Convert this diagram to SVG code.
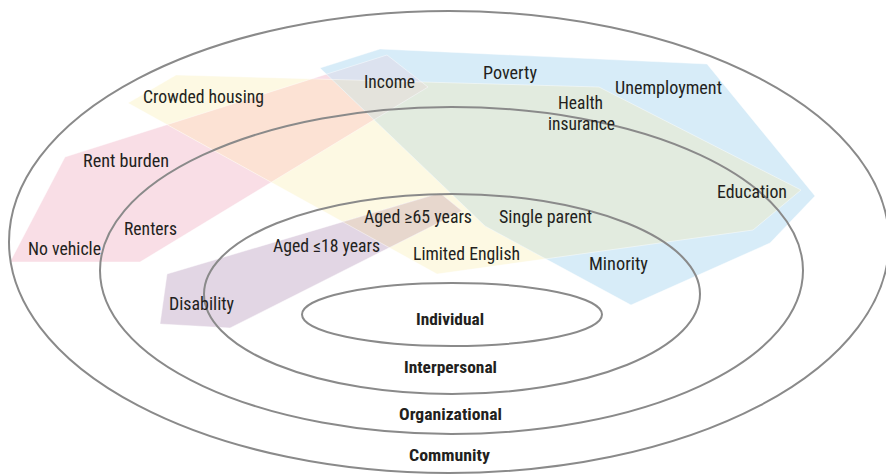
<svg xmlns="http://www.w3.org/2000/svg" xmlns:xlink="http://www.w3.org/1999/xlink" width="886" height="474" viewBox="0 0 886 474">
  <style>
    .ring { fill: none; stroke: #8a8a8a; stroke-width: 2; }
    .lbl { font-family: "Liberation Sans Narrow", "Roboto Condensed", "Liberation Sans", Arial, sans-serif; font-size: 17.5px; fill: #231f20; }
    .lvl { font-family: "Liberation Sans Narrow", "Roboto Condensed", "Liberation Sans", Arial, sans-serif; font-size: 17px; font-weight: bold; fill: #231f20; }
    .edge { fill: none; stroke: #ffffff; stroke-opacity: 0.45; stroke-width: 1; }
  </style>
  <defs>
    <!-- factor bands -->
    <polygon id="pinkShape" points="10,262 65,157 387,55 428,87 140,262"/>
    <polygon id="yellowShape" points="128,103 176,75 599,87 801,190 753,230 437,274"/>
    <polygon id="blueShape" points="320,68 380,49 707,64 815,196 770,243 631,305 485,226"/>
    <polygon id="purpleShape" points="160,324 167,274 440,193 462,211 230,328"/>
    <clipPath id="inYellow"><use xlink:href="#yellowShape"/></clipPath>
    <clipPath id="inBlue"><use xlink:href="#blueShape"/></clipPath>
  </defs>

  <rect width="886" height="474" fill="#ffffff"/>

  <!-- housing / transport band -->
  <g id="band-housing">
    <use xlink:href="#pinkShape" fill="#f9dee6"/>
  </g>
  <!-- household band -->
  <g id="band-household">
    <use xlink:href="#yellowShape" fill="#fdf9e3"/>
  </g>
  <!-- socioeconomic band -->
  <g id="band-socioeconomic">
    <use xlink:href="#blueShape" fill="#d7ecf8"/>
  </g>
  <!-- age / disability band -->
  <g id="band-age">
    <use xlink:href="#purpleShape" fill="#e2d6e4"/>
  </g>

  <!-- overlaps -->
  <g id="overlaps">
    <use xlink:href="#pinkShape" fill="#fce2d4" clip-path="url(#inYellow)"/>
    <use xlink:href="#yellowShape" fill="#e2ebdf" clip-path="url(#inBlue)"/>
    <use xlink:href="#pinkShape" fill="#dce2ef" clip-path="url(#inBlue)"/>
    <g clip-path="url(#inBlue)">
      <use xlink:href="#pinkShape" fill="#e4e3dc" clip-path="url(#inYellow)"/>
    </g>
    <use xlink:href="#purpleShape" fill="#e7d7cd" clip-path="url(#inYellow)"/>
  </g>

  <!-- faint band outlines -->
  <g id="band-edges">
    <use xlink:href="#pinkShape" class="edge"/>
    <use xlink:href="#yellowShape" class="edge"/>
    <use xlink:href="#blueShape" class="edge"/>
    <use xlink:href="#purpleShape" class="edge"/>
  </g>

  <!-- nested levels -->
  <g id="ring-community">
    <ellipse class="ring" cx="449" cy="242" rx="440" ry="231"/>
    <text class="lvl" x="409" y="461" textLength="81" lengthAdjust="spacingAndGlyphs">Community</text>
  </g>
  <g id="ring-organizational">
    <ellipse class="ring" cx="451.5" cy="270.5" rx="351.5" ry="163.5"/>
    <text class="lvl" x="399" y="420" textLength="103" lengthAdjust="spacingAndGlyphs">Organizational</text>
  </g>
  <g id="ring-interpersonal">
    <ellipse class="ring" cx="452" cy="294" rx="248" ry="100"/>
    <text class="lvl" x="404" y="373" textLength="93" lengthAdjust="spacingAndGlyphs">Interpersonal</text>
  </g>
  <g id="ring-individual">
    <ellipse class="ring" cx="452" cy="314.5" rx="150" ry="31.5"/>
    <text class="lvl" x="416" y="325" textLength="68" lengthAdjust="spacingAndGlyphs">Individual</text>
  </g>

  <!-- factor labels -->
  <g id="factor-income"><text class="lbl" x="364" y="88" textLength="51" lengthAdjust="spacingAndGlyphs">Income</text></g>
  <g id="factor-poverty"><text class="lbl" x="483" y="79" textLength="54" lengthAdjust="spacingAndGlyphs">Poverty</text></g>
  <g id="factor-unemployment"><text class="lbl" x="615" y="94" textLength="107" lengthAdjust="spacingAndGlyphs">Unemployment</text></g>
  <g id="factor-health-insurance">
    <text class="lbl" x="558" y="109" textLength="45" lengthAdjust="spacingAndGlyphs">Health</text>
    <text class="lbl" x="548" y="130" textLength="67" lengthAdjust="spacingAndGlyphs">insurance</text>
  </g>
  <g id="factor-crowded-housing"><text class="lbl" x="143" y="103" textLength="121" lengthAdjust="spacingAndGlyphs">Crowded housing</text></g>
  <g id="factor-rent-burden"><text class="lbl" x="83" y="167" textLength="86" lengthAdjust="spacingAndGlyphs">Rent burden</text></g>
  <g id="factor-education"><text class="lbl" x="717" y="198" textLength="70" lengthAdjust="spacingAndGlyphs">Education</text></g>
  <g id="factor-aged-65"><text class="lbl" x="364" y="223" textLength="108" lengthAdjust="spacingAndGlyphs">Aged ≥65 years</text></g>
  <g id="factor-single-parent"><text class="lbl" x="499" y="223" textLength="93" lengthAdjust="spacingAndGlyphs">Single parent</text></g>
  <g id="factor-renters"><text class="lbl" x="124" y="235" textLength="53" lengthAdjust="spacingAndGlyphs">Renters</text></g>
  <g id="factor-no-vehicle"><text class="lbl" x="28" y="255" textLength="73" lengthAdjust="spacingAndGlyphs">No vehicle</text></g>
  <g id="factor-aged-18"><text class="lbl" x="273" y="252" textLength="107" lengthAdjust="spacingAndGlyphs">Aged ≤18 years</text></g>
  <g id="factor-limited-english"><text class="lbl" x="413" y="259.5" textLength="107" lengthAdjust="spacingAndGlyphs">Limited English</text></g>
  <g id="factor-minority"><text class="lbl" x="589" y="270" textLength="59" lengthAdjust="spacingAndGlyphs">Minority</text></g>
  <g id="factor-disability"><text class="lbl" x="169" y="310" textLength="65" lengthAdjust="spacingAndGlyphs">Disability</text></g>
</svg>
